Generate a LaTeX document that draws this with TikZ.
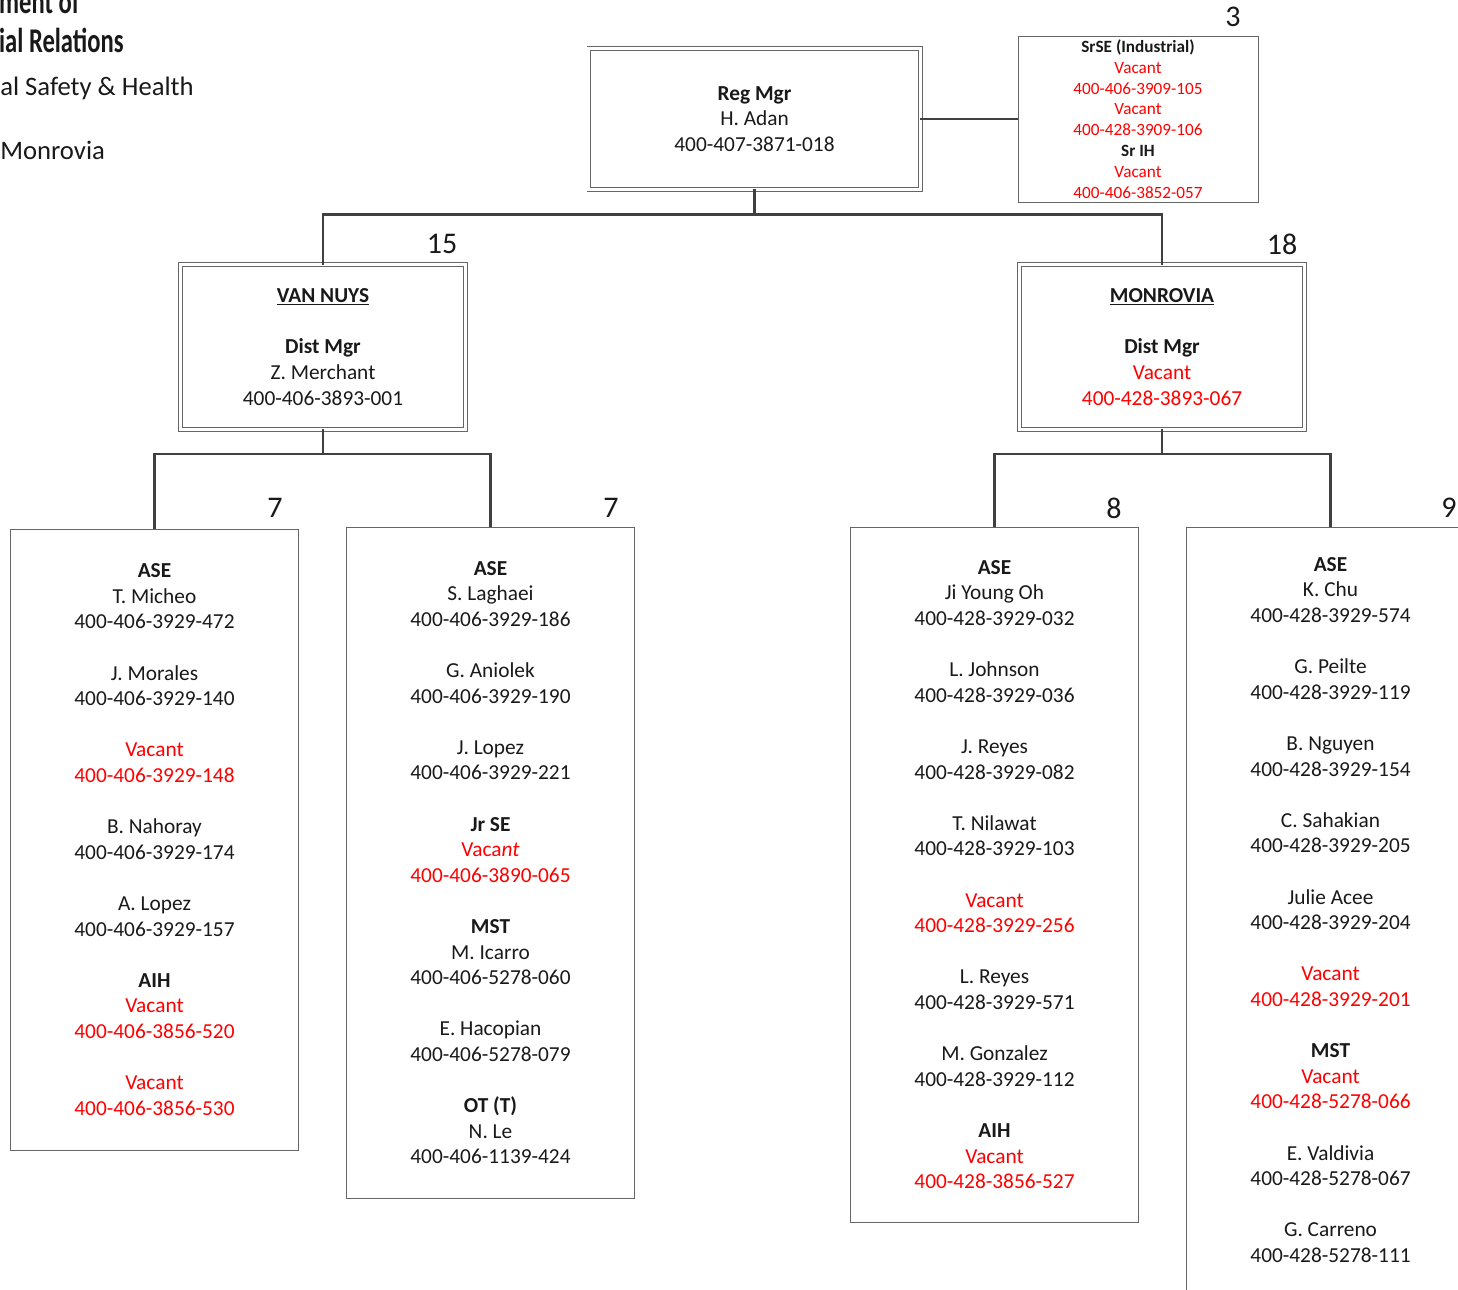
\documentclass[tikz,border=0pt]{standalone}
\usepackage{fontspec}
\setmainfont{Carlito}
\usepackage{tikz}
\definecolor{vacred}{HTML}{FF0000}
\definecolor{linkgray}{HTML}{404040}
\definecolor{boxgray}{HTML}{666666}
\newcommand{\vac}[1]{\textcolor{vacred}{#1}}
\tikzset{
    orgtext/.style={align=center,inner sep=0,outer sep=0,text=black!90},
    plainbox/.style={orgtext,draw=boxgray,line width=.7pt},
    dblbox/.style={orgtext,draw=boxgray,line width=.7pt,double=white,double distance=2.2pt},
    link/.style={draw=linkgray,line width=1.9pt},
    countlabel/.style={inner sep=0,text=black!90},
    headtext/.style={anchor=base west,inner sep=0,text=black!90}
}
\begin{document}
\begin{tikzpicture}[x=.75pt,y=-.75pt]
    \pgfmathsetmacro{\boxwidth}{216}
    \pgfmathsetmacro{\dblwidth}{213.4}
    \providecommand{\textfontsize}{\fontsize{16}{19.2}\selectfont}
    \providecommand{\smallfontsize}{\fontsize{12.9}{15.6}\selectfont}
    \providecommand{\countfontsize}{\fontsize{22.5}{24}\selectfont}
    \providecommand{\titlefontsize}{\fontsize{26}{30}\selectfont}
    \providecommand{\headfontsize}{\fontsize{20}{24}\selectfont}
    \useasboundingbox (0,0) rectangle (1458,1289);
    \clip (0,0) rectangle (1458,1289);
    % title block, cut by the page edge
    \node[headtext,font=\titlefontsize\bfseries,xscale=.71] (deptone) at (-1,13) {ment of};
    \node[headtext,font=\titlefontsize\bfseries,xscale=.71] (depttwo) at (-1,52) {ial Relations};
    \node[headtext,font=\headfontsize] (unitname) at (0,95) {al Safety \& Health};
    \node[headtext,font=\headfontsize] (cityname) at (0,159) {Monrovia};
    % managers
    \node[dblbox,font=\textfontsize,minimum width=248.4pt,minimum height=105.2pt] (regmgr) at (754.5,119)
    {\textbf{Reg Mgr}\\H. Adan\\400-407-3871-018};
    \node[plainbox,font=\smallfontsize,minimum width=180pt,minimum height=124.5pt] (srse) at (1138,119)
    {\textbf{SrSE (Industrial)}\\\vac{Vacant}\\\vac{400-406-3909-105}\\\vac{Vacant}\\\vac{400-428-3909-106}\\\textbf{Sr IH}\\\vac{Vacant}\\\vac{400-406-3852-057}};
    \node[dblbox,font=\textfontsize,minimum width=\dblwidth pt,minimum height=123.2pt] (vannuys) at (323,347)
    {\textbf{\underline{VAN NUYS}}\\[\baselineskip]\textbf{Dist Mgr}\\Z. Merchant\\400-406-3893-001};
    \node[dblbox,font=\textfontsize,minimum width=\dblwidth pt,minimum height=123.2pt] (monrovia) at (1162,347)
    {\textbf{\underline{MONROVIA}}\\[\baselineskip]\textbf{Dist Mgr}\\\vac{Vacant}\\\vac{400-428-3893-067}};
    % district staff
    \node[plainbox,font=\textfontsize,minimum width=\boxwidth pt,minimum height=465.75pt] (vnone) at (154.5,839.5)
    {\textbf{ASE}\\T. Micheo\\400-406-3929-472\\[\baselineskip]
    J. Morales\\400-406-3929-140\\[\baselineskip]
    \vac{Vacant}\\\vac{400-406-3929-148}\\[\baselineskip]
    B. Nahoray\\400-406-3929-174\\[\baselineskip]
    A. Lopez\\400-406-3929-157\\[\baselineskip]
    \textbf{AIH}\\\vac{Vacant}\\\vac{400-406-3856-520}\\[\baselineskip]
    \vac{Vacant}\\\vac{400-406-3856-530}};
    \node[plainbox,font=\textfontsize,minimum width=\boxwidth pt,minimum height=503.25pt] (vntwo) at (490.5,862.5)
    {\textbf{ASE}\\S. Laghaei\\400-406-3929-186\\[\baselineskip]
    G. Aniolek\\400-406-3929-190\\[\baselineskip]
    J. Lopez\\400-406-3929-221\\[\baselineskip]
    \textbf{Jr SE}\\\vac{Vaca\textit{nt}}\\\vac{400-406-3890-065}\\[\baselineskip]
    \textbf{MST}\\M. Icarro\\400-406-5278-060\\[\baselineskip]
    E. Hacopian\\400-406-5278-079\\[\baselineskip]
    \textbf{OT (T)}\\N. Le\\400-406-1139-424};
    \node[plainbox,font=\textfontsize,minimum width=\boxwidth pt,minimum height=521.25pt] (moone) at (994.5,874.5)
    {\textbf{ASE}\\Ji Young Oh\\400-428-3929-032\\[\baselineskip]
    L. Johnson\\400-428-3929-036\\[\baselineskip]
    J. Reyes\\400-428-3929-082\\[\baselineskip]
    T. Nilawat\\400-428-3929-103\\[\baselineskip]
    \vac{Vacant}\\\vac{400-428-3929-256}\\[\baselineskip]
    L. Reyes\\400-428-3929-571\\[\baselineskip]
    M. Gonzalez\\400-428-3929-112\\[\baselineskip]
    \textbf{AIH}\\\vac{Vacant}\\\vac{400-428-3856-527}};
    \node[plainbox,font=\textfontsize,minimum width=\boxwidth pt,minimum height=574.5pt] (motwo) at (1330.5,910)
    {\textbf{ASE}\\K. Chu\\400-428-3929-574\\[\baselineskip]
    G. Peilte\\400-428-3929-119\\[\baselineskip]
    B. Nguyen\\400-428-3929-154\\[\baselineskip]
    C. Sahakian\\400-428-3929-205\\[\baselineskip]
    Julie Acee\\400-428-3929-204\\[\baselineskip]
    \vac{Vacant}\\\vac{400-428-3929-201}\\[\baselineskip]
    \textbf{MST}\\\vac{Vacant}\\\vac{400-428-5278-066}\\[\baselineskip]
    E. Valdivia\\400-428-5278-067\\[\baselineskip]
    G. Carreno\\400-428-5278-111};
    % position counts
    \node[countlabel,font=\countfontsize] (countsrse) at (1233,17) {3};
    \node[countlabel,font=\countfontsize] (countvn) at (442,244) {15};
    \node[countlabel,font=\countfontsize] (countmo) at (1282,244) {18};
    \node[countlabel,font=\countfontsize] (countvnone) at (275,508) {7};
    \node[countlabel,font=\countfontsize] (countvntwo) at (611,508) {7};
    \node[countlabel,font=\countfontsize] (countmoone) at (1114,508) {8};
    \node[countlabel,font=\countfontsize] (countmotwo) at (1449,508) {9};
    % connectors
    \coordinate (regbus) at (754.5,214.5);
    \coordinate (vnbus) at (323,454);
    \coordinate (mobus) at (1162,454);
    \draw[link] (regmgr.east) -- (srse.west);
    \draw[link] (regmgr.south) -- (regbus);
    \draw[link] (vannuys.north) |- (regbus) -| (monrovia.north);
    \draw[link] (vannuys.south) -- (vnbus);
    \draw[link] (vnone.north) |- (vnbus) -| (vntwo.north);
    \draw[link] (monrovia.south) -- (mobus);
    \draw[link] (moone.north) |- (mobus) -| (motwo.north);
\end{tikzpicture}
\end{document}
